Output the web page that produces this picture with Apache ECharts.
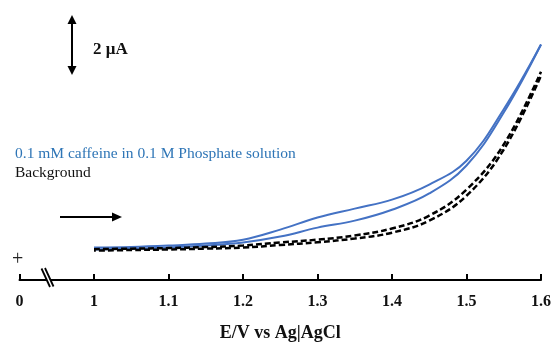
<!DOCTYPE html>
<html>
<head>
<meta charset="utf-8">
<script src="https://cdn.jsdelivr.net/npm/echarts@6/dist/echarts.min.js"></script>
<style>html,body{margin:0;padding:0;background:#fff;}#c{width:555px;height:349px;}</style>
</head>
<body>
<div id="c"></div>
<script>
// Potential (V vs Ag|AgCl)
var potentials = [1.0, 1.05, 1.1, 1.15, 1.2, 1.25, 1.3, 1.35, 1.4, 1.45, 1.5, 1.55, 1.6];
// Current (µA), caffeine scan – upper and lower branch
var caffeineUpper = [0.36, 0.38, 0.43, 0.50, 0.64, 1.00, 1.43, 1.75, 2.07, 2.61, 3.46, 5.30, 7.61];
var caffeineLower = [0.29, 0.32, 0.36, 0.43, 0.54, 0.75, 1.07, 1.32, 1.71, 2.29, 3.29, 5.18, 7.61];
// Current (µA), background scan – upper and lower branch
var backgroundUpper = [0.30, 0.32, 0.34, 0.375, 0.43, 0.54, 0.64, 0.79, 1.04, 1.50, 2.43, 4.04, 6.64];
var backgroundLower = [0.25, 0.27, 0.29, 0.32, 0.36, 0.45, 0.55, 0.68, 0.89, 1.32, 2.21, 3.86, 6.50];
var xTickFirstLabel = '0';
var seriesNames = ['0.1 mM caffeine in 0.1 M Phosphate solution', 'Background'];
var axisTitle = 'E/V vs Ag|AgCl';
var scaleLabel = '2 \u03bcA';

function pairs(ys) { return potentials.map(function (x, i) { return [x, ys[i]]; }); }

var blue = '#4472C4';
var serif = '"Liberation Serif", "Times New Roman", serif';

var chart = echarts.init(document.getElementById('c'), null, {renderer: 'canvas'});
chart.setOption({
  animation: false,
  backgroundColor: '#fff',
  grid: {left: 19.5, right: 14, top: 20, bottom: 69, containLabel: false, outerBoundsMode: 'none'},
  legend: {
    orient: 'vertical', left: 5, top: 141, itemWidth: 0, itemHeight: 0, itemGap: 2.5, icon: 'none',
    textStyle: {fontFamily: serif, fontSize: 15.5},
    data: [
      {name: seriesNames[0], textStyle: {color: '#2E75B6'}},
      {name: seriesNames[1], textStyle: {color: '#111'}}
    ]
  },
  xAxis: {
    type: 'value', min: 0.9, max: 1.6, interval: 0.1,
    axisLine: {onZero: false, lineStyle: {color: '#000', width: 2}},
    axisTick: {inside: true, length: 6, lineStyle: {color: '#000', width: 2}},
    splitLine: {show: false},
    axisLabel: {
      margin: 14, color: '#111', fontFamily: serif, fontWeight: 'bold', fontSize: 16,
      formatter: function (v) { if (v < 0.95) return xTickFirstLabel; if (Math.abs(v - 1) < 1e-6) return '1'; return v.toFixed(1); }
    },
    name: axisTitle, nameLocation: 'middle', nameGap: 44,
    nameTextStyle: {color: '#111', fontFamily: serif, fontWeight: 'bold', fontSize: 18}
  },
  yAxis: {type: 'value', min: -0.8, max: 8.486, show: false},
  series: [
    {name: seriesNames[0], type: 'line', data: pairs(caffeineUpper), smooth: 0.4, showSymbol: false, lineStyle: {color: blue, width: 2}, itemStyle: {color: blue}},
    {name: seriesNames[0], type: 'line', data: pairs(caffeineLower), smooth: 0.4, showSymbol: false, lineStyle: {color: blue, width: 2}, itemStyle: {color: blue}},
    {name: seriesNames[1], type: 'line', data: pairs(backgroundUpper), smooth: 0.4, showSymbol: false, lineStyle: {color: '#000', width: 2.5, type: [6, 3]}, itemStyle: {color: '#000'}},
    {name: seriesNames[1], type: 'line', data: pairs(backgroundLower), smooth: 0.4, showSymbol: false, lineStyle: {color: '#000', width: 2.5, type: [6, 3], dashOffset: 4}, itemStyle: {color: '#000'}}
  ],
  graphic: [
    // scale bar
    {type: 'line', shape: {x1: 72, y1: 22, x2: 72, y2: 68}, style: {stroke: '#000', lineWidth: 2}},
    {type: 'polygon', shape: {points: [[72, 15], [67.5, 24], [76.5, 24]]}, style: {fill: '#000'}},
    {type: 'polygon', shape: {points: [[72, 75], [67.5, 66], [76.5, 66]]}, style: {fill: '#000'}},
    {type: 'text', left: 93, top: 41, style: {text: scaleLabel, fill: '#111', font: 'bold 17px ' + serif}},
    // scan direction arrow
    {type: 'line', shape: {x1: 60, y1: 217, x2: 114, y2: 217}, style: {stroke: '#000', lineWidth: 2}},
    {type: 'polygon', shape: {points: [[122, 217], [112, 212.5], [112, 221.5]]}, style: {fill: '#000'}},
    // zero-current marker
    {type: 'text', left: 12, top: 250, style: {text: '+', fill: '#222', font: '20px ' + serif}},
    // axis break
    {type: 'polygon', z: 100, shape: {points: [[42, 269], [45, 269], [53, 287], [50, 287]]}, style: {fill: '#fff'}},
    {type: 'line', z: 101, shape: {x1: 41.5, y1: 268.5, x2: 50, y2: 287}, style: {stroke: '#000', lineWidth: 1.8}},
    {type: 'line', z: 101, shape: {x1: 45, y1: 268, x2: 53.5, y2: 286.5}, style: {stroke: '#000', lineWidth: 1.8}}
  ]
});
</script>
</body>
</html>
